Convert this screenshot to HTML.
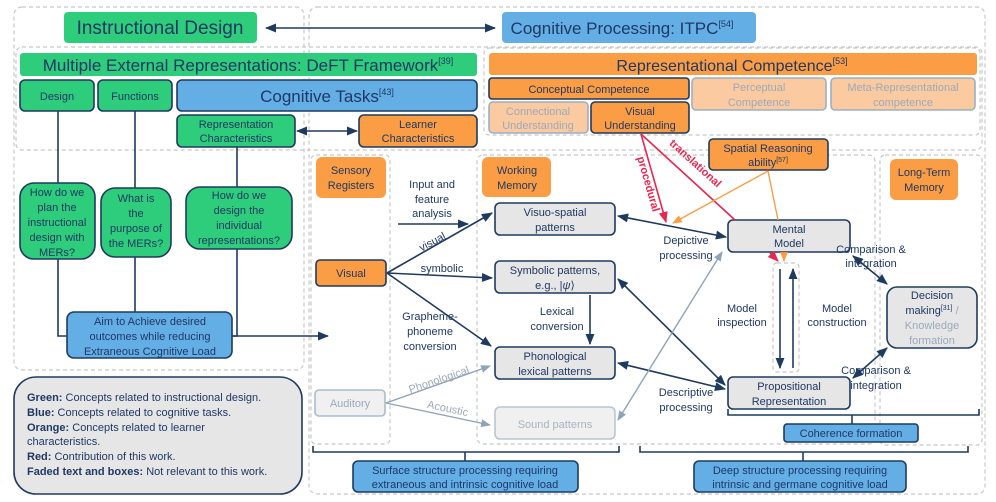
<!DOCTYPE html>
<html><head><meta charset="utf-8"><style>
html,body{margin:0;padding:0;background:#fff}
svg{display:block;font-family:"Liberation Sans",sans-serif}
</style></head><body>
<svg width="996" height="502" viewBox="0 0 996 502" xmlns="http://www.w3.org/2000/svg">
<defs>
<marker id="a" viewBox="0 0 10 10" refX="9" refY="5" markerWidth="7" markerHeight="7" orient="auto-start-reverse"><path d="M0,1 L10,5 L0,9 z" fill="#1f3a5f"/></marker>
<marker id="af" viewBox="0 0 10 10" refX="9" refY="5" markerWidth="7" markerHeight="7" orient="auto-start-reverse"><path d="M0,1 L10,5 L0,9 z" fill="#8ea2b8"/></marker>
<marker id="ar" viewBox="0 0 10 10" refX="9" refY="5" markerWidth="7" markerHeight="7" orient="auto-start-reverse"><path d="M0,1 L10,5 L0,9 z" fill="#e8264f"/></marker>
<marker id="ao" viewBox="0 0 10 10" refX="9" refY="5" markerWidth="7" markerHeight="7" orient="auto-start-reverse"><path d="M0,1 L10,5 L0,9 z" fill="#fb9d45"/></marker>
</defs>
<g fill="none" stroke="#c8c8c8" stroke-dasharray="4,3" stroke-width="1.2">
<rect x="14" y="7" width="290" height="363" rx="8"/>
<rect x="309" y="7" width="676" height="487" rx="8"/>
<rect x="16" y="47" width="966" height="103" rx="6"/>
<rect x="484" y="48" width="496" height="87" rx="5"/>
<rect x="311" y="155" width="79" height="289" rx="5"/>
<rect x="477" y="155" width="398" height="289" rx="6"/>
<rect x="880" y="155" width="102" height="290" rx="5"/>
<rect x="773" y="263" width="26" height="109" rx="4"/>
</g>
<g stroke="#1f3a5f" stroke-width="1.6">
<rect x="64" y="12" width="193" height="31" rx="4" fill="#2ecd7b" stroke="none"/>
<rect x="502" y="12" width="254" height="31" rx="4" fill="#64aee6" stroke="none"/>
<rect x="20" y="53" width="457" height="23" rx="3" fill="#2ecd7b" stroke="none"/>
<rect x="20" y="80" width="74" height="31" rx="5" fill="#2ecd7b"/>
<rect x="98" y="80" width="74" height="31" rx="5" fill="#2ecd7b"/>
<rect x="177" y="80" width="300" height="31" rx="5" fill="#64aee6"/>
<rect x="177" y="115" width="118" height="32" rx="5" fill="#2ecd7b"/>
<rect x="359" y="115" width="118" height="32" rx="5" fill="#fb9d45"/>
<rect x="489" y="53" width="488" height="22" rx="3" fill="#fb9d45" stroke="none"/>
<rect x="489" y="78" width="200" height="21" rx="3" fill="#fb9d45"/>
<rect x="692" y="78" width="134" height="32" rx="4" fill="#fccaa0" stroke="#9ab0c4"/>
<rect x="831" y="78" width="144" height="32" rx="4" fill="#fccaa0" stroke="#9ab0c4"/>
<rect x="489" y="102" width="99" height="31" rx="4" fill="#fccaa0" stroke="#9ab0c4"/>
<rect x="591" y="102" width="98" height="31" rx="4" fill="#fb9d45"/>
<rect x="20" y="183" width="75" height="76" rx="14" fill="#2ecd7b"/>
<rect x="101" y="188" width="70" height="69" rx="14" fill="#2ecd7b"/>
<rect x="186" y="187" width="106" height="62" rx="14" fill="#2ecd7b"/>
<rect x="67" y="312" width="165" height="46" rx="7" fill="#64aee6"/>
<rect x="14" y="377" width="288" height="117" rx="22" fill="#e6e6e6"/>
<rect x="316" y="157" width="70" height="41" rx="6" fill="#fb9d45" stroke="none"/>
<rect x="316" y="260" width="70" height="26" rx="4" fill="#fb9d45"/>
<rect x="315" y="390" width="70" height="26" rx="4" fill="#f0f0f0" stroke="#a8bccf"/>
<rect x="482" y="157" width="69" height="40" rx="6" fill="#fb9d45" stroke="none"/>
<rect x="495" y="203" width="120" height="32" rx="5" fill="#e6e6e6"/>
<rect x="495" y="261" width="120" height="32" rx="5" fill="#e6e6e6"/>
<rect x="495" y="347" width="120" height="32" rx="5" fill="#e6e6e6"/>
<rect x="495" y="407" width="120" height="32" rx="5" fill="#f0f0f0" stroke="#b8c6d4"/>
<rect x="728" y="220" width="122" height="32" rx="5" fill="#e6e6e6"/>
<rect x="728" y="377" width="122" height="32" rx="5" fill="#e6e6e6"/>
<rect x="887" y="287" width="90" height="61" rx="10" fill="#e6e6e6"/>
<rect x="709" y="139" width="119" height="31" rx="4" fill="#fb9d45"/>
<rect x="890" y="159" width="68" height="41" rx="6" fill="#fb9d45" stroke="none"/>
<rect x="353" y="461" width="225" height="31" rx="5" fill="#64aee6"/>
<rect x="694" y="461" width="212" height="31" rx="5" fill="#64aee6"/>
<rect x="784" y="424" width="134" height="18" rx="3" fill="#64aee6"/>
</g>
<g stroke="#1f3a5f" stroke-width="1.6" fill="none">
<line x1="266" y1="28" x2="495" y2="28" marker-start="url(#a)" marker-end="url(#a)"/>
<line x1="297" y1="131" x2="357" y2="131" marker-start="url(#a)" marker-end="url(#a)"/>
<line x1="58" y1="111" x2="58" y2="183"/>
<line x1="135" y1="111" x2="135" y2="188"/>
<line x1="237" y1="147" x2="237" y2="187"/>
<polyline points="58,259 58,336 67,336"/>
<line x1="135" y1="257" x2="135" y2="312"/>
<polyline points="237,249 237,336 232,336"/>
<line x1="232" y1="336" x2="328" y2="336" marker-end="url(#a)"/>
<line x1="398" y1="224" x2="468" y2="224" marker-end="url(#a)"/>
<line x1="387" y1="273" x2="492" y2="213" marker-end="url(#a)"/>
<line x1="387" y1="273" x2="492" y2="278" marker-end="url(#a)"/>
<line x1="387" y1="273" x2="491" y2="346" marker-end="url(#a)"/>
<line x1="590" y1="295" x2="590" y2="344" marker-end="url(#a)"/>
<line x1="618" y1="216" x2="726" y2="237" marker-start="url(#a)" marker-end="url(#a)"/>
<line x1="618" y1="279" x2="725" y2="385" marker-start="url(#a)" marker-end="url(#a)"/>
<line x1="618" y1="363" x2="725" y2="389" marker-start="url(#a)" marker-end="url(#a)"/>
<line x1="780" y1="269" x2="780" y2="368" marker-end="url(#a)"/>
<line x1="793" y1="368" x2="793" y2="269" marker-end="url(#a)"/>
<line x1="853" y1="256" x2="887" y2="284" marker-start="url(#a)" marker-end="url(#a)"/>
<line x1="853" y1="378" x2="887" y2="348" marker-start="url(#a)" marker-end="url(#a)"/>
<polyline points="313,446 313,452 619,452 619,446"/>
<line x1="465" y1="452" x2="465" y2="461"/>
<polyline points="640,446 640,452 968,452 968,446"/>
<line x1="803" y1="452" x2="803" y2="461"/>
<polyline points="728,409 728,415 979,415 979,409"/>
<line x1="852" y1="415" x2="852" y2="424"/>
</g>
<g stroke="#8ea2b8" stroke-width="1.4" fill="none">
<line x1="386" y1="403" x2="490" y2="366" marker-end="url(#af)"/>
<line x1="386" y1="403" x2="490" y2="425" marker-end="url(#af)"/>
<line x1="618" y1="420" x2="722" y2="252" marker-start="url(#af)" marker-end="url(#af)"/>
</g>
<g stroke="#e8264f" stroke-width="1.6" fill="none">
<line x1="641" y1="134" x2="666" y2="222" marker-end="url(#ar)"/>
<line x1="641" y1="134" x2="735" y2="220"/>
<line x1="770" y1="253" x2="778" y2="261" marker-end="url(#ar)"/>
</g>
<g stroke="#fb9d45" stroke-width="1.4" fill="none">
<line x1="768" y1="171" x2="673" y2="223" marker-end="url(#ao)"/>
<line x1="768" y1="171" x2="778" y2="220"/>
<line x1="784" y1="253" x2="784" y2="261" marker-end="url(#ao)"/>
</g>
<g fill="#1f3864" text-anchor="middle" font-size="11">
<text x="160" y="34" font-size="19">Instructional Design</text>
<text x="622" y="34" font-size="17">Cognitive Processing: ITPC<tspan font-size="9" dy="-7">[54]</tspan></text>
<text x="248" y="71" font-size="17">Multiple External Representations: DeFT Framework<tspan font-size="9" dy="-7">[39]</tspan></text>
<text x="57" y="100">Design</text>
<text x="135" y="100">Functions</text>
<text x="327" y="102" font-size="17">Cognitive Tasks<tspan font-size="9" dy="-7">[43]</tspan></text>
<text x="236" y="128">Representation</text><text x="236" y="142">Characteristics</text>
<text x="418" y="128">Learner</text><text x="418" y="142">Characteristics</text>
<text x="732" y="71" font-size="16">Representational Competence<tspan font-size="9" dy="-7">[53]</tspan></text>
<text x="589" y="93">Conceptual Competence</text>
<g fill="#9aaabb"><text x="759" y="91">Perceptual</text><text x="759" y="106">Competence</text>
<text x="903" y="91">Meta-Representational</text><text x="903" y="106">competence</text>
<text x="538" y="115">Connectional</text><text x="538" y="129">Understanding</text></g>
<text x="640" y="115">Visual</text><text x="640" y="129">Understanding</text>
<text x="57" y="196">How do we</text><text x="57" y="211">plan the</text><text x="57" y="226">instructional</text><text x="57" y="241">design with</text><text x="57" y="256">MERs?</text>
<text x="136" y="202">What is</text><text x="136" y="217">the</text><text x="136" y="232">purpose of</text><text x="136" y="247">the MERs?</text>
<text x="239" y="199">How do we</text><text x="239" y="214">design the</text><text x="239" y="229">individual</text><text x="239" y="244">representations?</text>
<text x="150" y="325">Aim to Achieve desired</text><text x="150" y="340">outcomes while reducing</text><text x="150" y="355">Extraneous Cognitive Load</text>
<text x="351" y="174">Sensory</text><text x="351" y="189">Registers</text>
<text x="351" y="277">Visual</text>
<text x="350" y="407" fill="#9aaabb">Auditory</text>
<text x="432" y="188">Input and</text><text x="432" y="203">feature</text><text x="432" y="217">analysis</text>
<text x="517" y="174">Working</text><text x="517" y="189">Memory</text>
<text x="555" y="216">Visuo-spatial</text><text x="555" y="231">patterns</text>
<text x="555" y="274">Symbolic patterns,</text><text x="555" y="289">e.g., |<tspan font-style="italic">ψ</tspan>⟩</text>
<text x="555" y="360">Phonological</text><text x="555" y="375">lexical patterns</text>
<text x="555" y="428" fill="#a8b4c2">Sound patterns</text>
<text x="557" y="315">Lexical</text><text x="557" y="330">conversion</text>
<text x="430" y="320">Grapheme-</text><text x="430" y="335">phoneme</text><text x="430" y="350">conversion</text>
<text x="442" y="272">symbolic</text>
<text x="434" y="245" transform="rotate(-28 434 245)">visual</text>
<text x="440" y="383" fill="#9aaabb" transform="rotate(-19 440 383)">Phonological</text>
<text x="447" y="412" fill="#9aaabb" transform="rotate(12 447 412)">Acoustic</text>
<text x="686" y="244">Depictive</text><text x="686" y="259">processing</text>
<text x="686" y="396">Descriptive</text><text x="686" y="411">processing</text>
<text x="789" y="233">Mental</text><text x="789" y="247">Model</text>
<text x="789" y="390">Propositional</text><text x="789" y="405">Representation</text>
<text x="742" y="312">Model</text><text x="742" y="326">inspection</text>
<text x="837" y="312">Model</text><text x="837" y="326">construction</text>
<text x="871" y="253">Comparison &amp;</text><text x="871" y="267">integration</text>
<text x="876" y="374">Comparison &amp;</text><text x="876" y="389">integration</text>
<text x="932" y="299">Decision</text><text x="932" y="314">making<tspan font-size="7" dy="-4">[31]</tspan><tspan dy="4" fill="#9aaabb"> /</tspan></text>
<text x="932" y="329" fill="#9aaabb">Knowledge</text><text x="932" y="344" fill="#9aaabb">formation</text>
<text x="768" y="152">Spatial Reasoning</text><text x="768" y="166">ability<tspan font-size="7" dy="-4">[57]</tspan></text>
<text x="924" y="176">Long-Term</text><text x="924" y="191">Memory</text>
<text x="465" y="474">Surface structure processing requiring</text><text x="465" y="488">extraneous and intrinsic cognitive load</text>
<text x="800" y="474">Deep structure processing requiring</text><text x="800" y="488">intrinsic and germane cognitive load</text>
<text x="851" y="437">Coherence formation</text>
<g fill="#e8264f" font-weight="bold" font-size="11">
<text x="645" y="185" transform="rotate(74 645 185)">procedural</text>
<text x="693" y="166" transform="rotate(42 693 166)">translational</text>
</g>
</g>
<g fill="#1f3864" font-size="11">
<text x="27" y="401"><tspan font-weight="bold">Green:</tspan> Concepts related to instructional design.</text>
<text x="27" y="416"><tspan font-weight="bold">Blue:</tspan> Concepts related to cognitive tasks.</text>
<text x="27" y="431"><tspan font-weight="bold">Orange:</tspan> Concepts related to  learner</text>
<text x="27" y="445">characteristics.</text>
<text x="27" y="460"><tspan font-weight="bold">Red:</tspan> Contribution of this work.</text>
<text x="27" y="475"><tspan font-weight="bold">Faded text and boxes:</tspan> Not relevant to this work.</text>
</g>
</svg>
</body></html>
